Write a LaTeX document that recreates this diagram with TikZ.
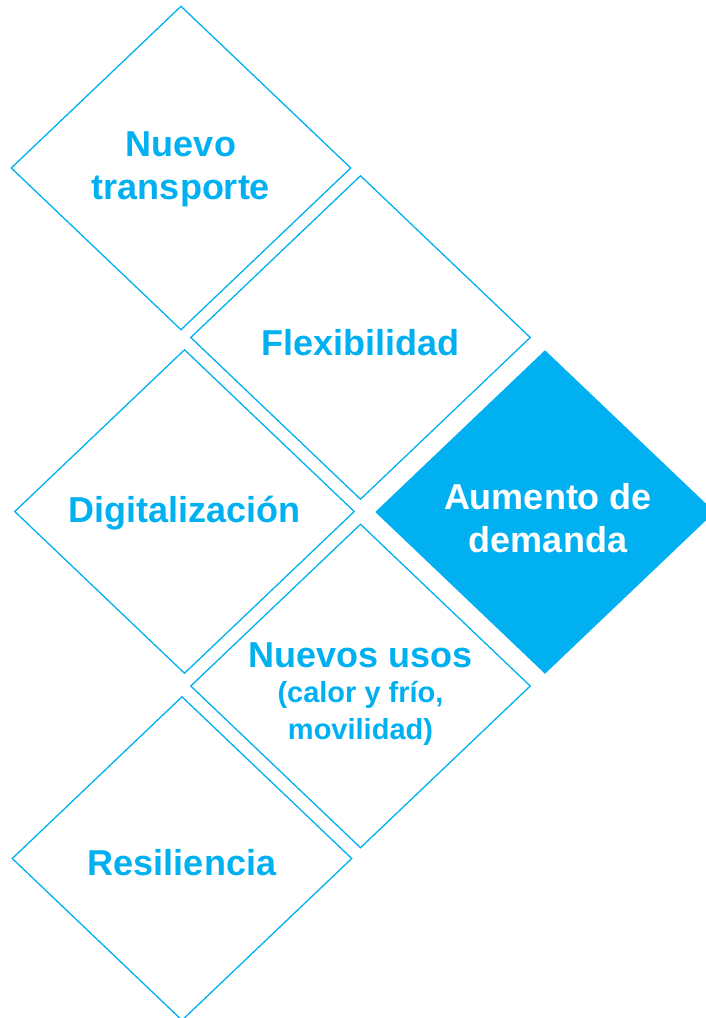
\documentclass[tikz,border=0pt]{standalone}
\usepackage{fontspec}
\setmainfont{Liberation Sans}
\usetikzlibrary{shapes.geometric}
\definecolor{cian}{HTML}{00B0F0}
\newcommand{\chico}{\fontsize{29}{37}\selectfont}

\begin{document}
\begin{tikzpicture}[x=1pt, y=-1pt,
  rombo/.style={shape=diamond, minimum width=340pt, minimum height=324pt,
    inner sep=0pt, draw=cian, line width=1.3pt},
  rombolleno/.style={rombo, fill=cian, draw=none},
  texto/.style={text=cian, align=center, inner sep=0pt,
    font=\fontsize{36}{43}\selectfont\bfseries}]

\useasboundingbox (0,0) rectangle (705,1018);

\node[rombo] (transporte) at (181,168) {};
\node[rombo] (flexibilidad) at (360.5,337.5) {};
\node[rombo] (digitalizacion) at (184.5,511.5) {};
\node[rombolleno] (demanda) at (545,512) {};
\node[rombo] (usos) at (360.5,686) {};
\node[rombo] (resiliencia) at (182,858.5) {};

\node[texto] (t-transporte) at ([yshift=-1pt]transporte) {Nuevo\\transporte};
\node[texto] (t-flexibilidad) at ([yshift=-5pt]flexibilidad) {Flexibilidad};
\node[texto] (t-digitalizacion) at ([yshift=-2pt]digitalizacion) {Digitalización};
\node[texto, text=white] (t-demanda) at ([xshift=3pt,yshift=-6pt]demanda) 
  {Aumento de\\demanda};
\node[texto] (t-usos) at ([yshift=-8pt]usos) 
  {Nuevos usos\\[-8pt]{\chico(calor y frío,}\\[-6pt]{\chico movilidad)}};
\node[texto] (t-resiliencia) at ([yshift=-4pt]resiliencia) {Resiliencia};

\end{tikzpicture}
\end{document}
